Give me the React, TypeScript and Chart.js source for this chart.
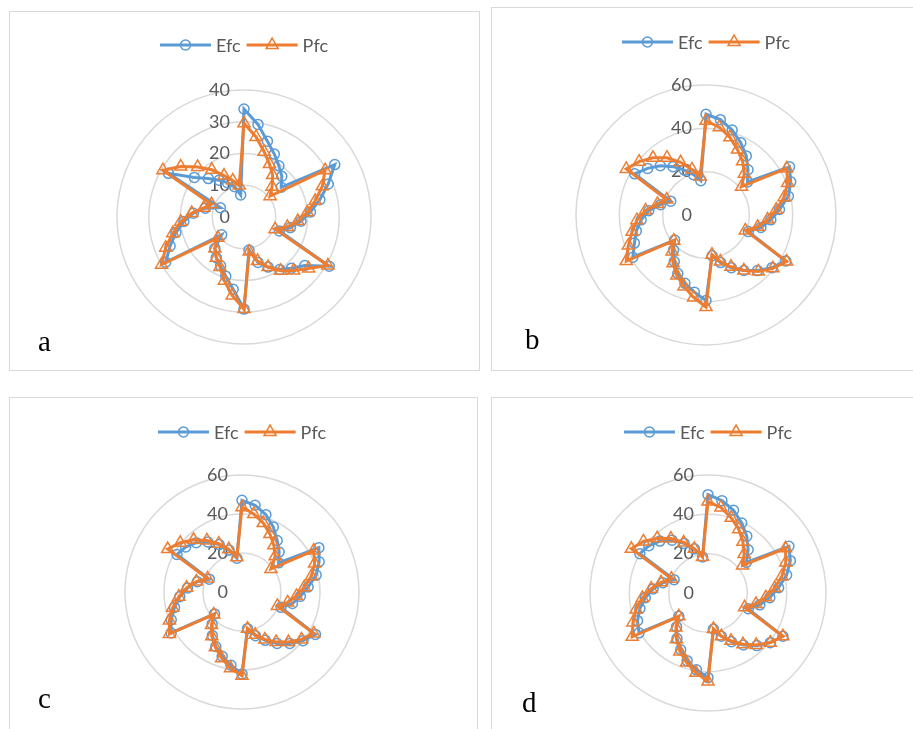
import React, { useEffect, useRef } from 'react';
import { Chart, registerables } from 'chart.js';

Chart.register(...registerables);

// ---------- data ----------
const categories = [
  '1', '2', '3', '4', '5', '6', '7', '8', '9', '10', '11', '12', '13', '14',
  '15', '16', '17', '18', '19', '20', '21', '22', '23', '24', '25', '26', '27', '28',
  '29', '30', '31', '32', '33', '34', '35', '36', '37', '38', '39', '40', '41', '42',
];

const seriesNames = ['Efc', 'Pfc'];
const panelLetters = ['a', 'b', 'c', 'd'];

const efcA = [
  34, 29.5, 25, 22, 19.5, 17.5, 15,
  33, 28.5, 24.5, 21, 18, 15, 12,
  31, 24.5, 22, 20, 17.5, 15, 10.5,
  29, 23, 19.5, 17, 15.5, 13.5, 9,
  28.5, 25, 22, 19, 16, 12.5, 8,
  27.5, 20, 16.5, 14, 12, 10, 7,
];
const pfcA = [
  29.5, 25.5, 21.5, 18.5, 16, 13, 10.5,
  29.5, 26.5, 23, 20, 17, 14, 10.5,
  30.5, 26, 23, 20.5, 17.5, 14.5, 11,
  29, 25, 21, 17.5, 15.5, 13.5, 10.5,
  30, 26.5, 23, 20, 16.5, 13, 11,
  29.5, 25.5, 21.5, 18, 14.5, 12, 10,
];

const efcB = [
  46.5, 44.5, 41, 37, 33, 28.5, 24.5,
  44.5, 42, 39, 34, 30, 26, 21,
  42.5, 39, 35, 31, 27, 23, 19,
  39.5, 36, 33, 30, 26, 22, 18.5,
  39, 35.5, 33, 30, 26.5, 21.5, 17.5,
  38, 34.5, 31, 27, 23, 19.5, 16,
];
const pfcB = [
  43.5, 41, 37.5, 33.5, 30, 26, 21,
  43, 40.5, 37, 32.5, 28.5, 24.5, 19.5,
  43, 39.5, 35.5, 31, 26.5, 22.5, 18.5,
  42.5, 38.5, 34.5, 31, 27, 23, 19,
  42.5, 38.5, 35, 32, 28, 23, 19.5,
  42.5, 39.5, 36, 32, 27, 22, 18,
];

const efcC = [
  47, 45, 41.5, 37, 32, 28, 24,
  45.5, 42.5, 39, 34, 30, 26.5, 21.5,
  43.5, 40, 36, 32, 27.5, 23.5, 19,
  42, 38, 34.5, 31, 27, 22.5, 18,
  42, 39, 35.5, 32, 28, 23.5, 18,
  38.5, 37, 34.5, 31, 27, 22.5, 17.5,
];
const pfcC = [
  43.5, 40.5, 37, 33, 29, 25, 19,
  42.5, 40, 36.5, 32, 28, 24, 19.5,
  42.5, 39, 35, 31, 27, 23, 19,
  43, 39.5, 35.5, 31.5, 27.5, 23, 18.5,
  43, 40, 36.5, 32.5, 28.5, 24, 19,
  44, 40.5, 36.5, 32, 27.5, 23, 18,
];

const efcD = [
  50, 47.5, 44, 39.5, 35, 30, 25,
  47.5, 45, 41, 36, 31.5, 27, 22,
  44, 40.5, 36.5, 32, 27.5, 23, 18.5,
  43, 39.5, 36, 32, 28, 23.5, 19,
  40.5, 38.5, 35.5, 32, 28, 23.5, 18.5,
  40, 38.5, 36, 32.5, 28, 23.5, 18.5,
];
const pfcD = [
  46.5, 44, 40, 36, 31.5, 27, 22.5,
  45.5, 42.5, 38.5, 34, 29.5, 25, 20,
  44, 40.5, 36, 31.5, 27, 23, 18.5,
  45, 41, 37, 33, 28.5, 24, 19,
  44.5, 41, 37.5, 33.5, 29, 24.5, 20,
  45, 42, 38, 33.5, 28.5, 23.5, 18.5,
];

const ticksA = [0, 10, 20, 30, 40];
const ticksBCD = [0, 20, 40, 60];

// ---------- styles / layout ----------
const BLUE = '#5b9bd5';
const ORANGE = '#ed7d31';
const GRID = '#d9d9d9';
const TEXT = '#595959';
const TICK_FONT = '18px Lato, "Open Sans", sans-serif';
const LEGEND_FONT = '18px Lato, "Open Sans", sans-serif';
const LETTER_FONT = '29px "Liberation Serif", "DejaVu Serif", serif';

type PanelCfg = {
  letter: string;
  efc: number[];
  pfc: number[];
  ticks: number[];
  L: number; T: number; W: number; H: number;
  cx: number; cy: number; R: number;
  legendY: number;
  letterX: number; letterY: number;
};

const panels: PanelCfg[] = [
  { letter: panelLetters[0], efc: efcA, pfc: pfcA, ticks: ticksA,
    L: 9, T: 11, W: 471, H: 360, cx: 244, cy: 217, R: 127, legendY: 45, letterX: 38, letterY: 351 },
  { letter: panelLetters[1], efc: efcB, pfc: pfcB, ticks: ticksBCD,
    L: 491, T: 7, W: 430, H: 364, cx: 706, cy: 215, R: 130, legendY: 42, letterX: 525, letterY: 349 },
  { letter: panelLetters[2], efc: efcC, pfc: pfcC, ticks: ticksBCD,
    L: 9, T: 397, W: 469, H: 340, cx: 242, cy: 592, R: 117, legendY: 432, letterX: 38, letterY: 708 },
  { letter: panelLetters[3], efc: efcD, pfc: pfcD, ticks: ticksBCD,
    L: 491, T: 397, W: 430, H: 340, cx: 708, cy: 593, R: 118, legendY: 432, letterX: 522, letterY: 712 },
];

function drawMarker(ctx: CanvasRenderingContext2D, style: string, x: number, y: number, r: number, color: string) {
  ctx.save();
  ctx.strokeStyle = color;
  ctx.lineWidth = 1.5;
  ctx.beginPath();
  if (style === 'circle') {
    ctx.arc(x, y, r, 0, Math.PI * 2);
  } else {
    let rad = 0;
    ctx.moveTo(x + Math.sin(rad) * r, y - Math.cos(rad) * r);
    rad += (2 * Math.PI) / 3;
    ctx.lineTo(x + Math.sin(rad) * r, y - Math.cos(rad) * r);
    rad += (2 * Math.PI) / 3;
    ctx.lineTo(x + Math.sin(rad) * r, y - Math.cos(rad) * r);
    ctx.closePath();
  }
  ctx.stroke();
  ctx.restore();
}

const CIRCLE_R = 5;
const TRI_R = 7;

function RadarPanel({ cfg }: { cfg: PanelCfg }) {
  const ref = useRef<HTMLCanvasElement | null>(null);
  useEffect(() => {
    const canvas = ref.current;
    if (!canvas) return;
    const max = cfg.ticks[cfg.ticks.length - 1];
    const step = cfg.ticks[1] - cfg.ticks[0];
    const pad = {
      left: cfg.cx - cfg.R - cfg.L,
      top: cfg.cy - cfg.R - cfg.T,
      right: cfg.L + cfg.W - (cfg.cx + cfg.R),
      bottom: cfg.T + cfg.H - (cfg.cy + cfg.R),
    };
    const overlay = {
      id: 'overlay',
      beforeDatasetsDraw(chart: any) {
        const ctx = chart.ctx as CanvasRenderingContext2D;
        const s = chart.scales.r;
        ctx.save();
        ctx.font = TICK_FONT;
        ctx.fillStyle = TEXT;
        ctx.textAlign = 'right';
        ctx.textBaseline = 'middle';
        cfg.ticks.forEach((v) => {
          const y = s.yCenter - s.getDistanceFromCenterForValue(v);
          ctx.fillText(String(v), s.xCenter - 14, y);
        });
        ctx.restore();
      },
      afterDraw(chart: any) {
        const ctx = chart.ctx as CanvasRenderingContext2D;
        const s = chart.scales.r;
        ctx.save();
        ctx.font = LEGEND_FONT;
        const segLen = 51;
        const gapText = 5;
        const gapItem = 6;
        const widths = seriesNames.map((n) => ctx.measureText(n).width);
        const total = widths.reduce((a, w) => a + segLen + gapText + w, 0) + gapItem;
        let x = s.xCenter - total / 2;
        const y = cfg.legendY - cfg.T;
        const colors = [BLUE, ORANGE];
        const styles = ['circle', 'triangle'];
        seriesNames.forEach((n, i) => {
          ctx.strokeStyle = colors[i];
          ctx.lineWidth = 3;
          ctx.beginPath();
          ctx.moveTo(x, y);
          ctx.lineTo(x + segLen, y);
          ctx.stroke();
          drawMarker(ctx, styles[i], x + segLen / 2, y, i === 0 ? CIRCLE_R : TRI_R, colors[i]);
          ctx.fillStyle = TEXT;
          ctx.textAlign = 'left';
          ctx.textBaseline = 'middle';
          ctx.fillText(n, x + segLen + gapText, y + 1);
          x += segLen + gapText + widths[i] + gapItem;
        });
        ctx.font = LETTER_FONT;
        ctx.fillStyle = '#000000';
        ctx.textAlign = 'left';
        ctx.textBaseline = 'alphabetic';
        ctx.fillText(cfg.letter, cfg.letterX - cfg.L, cfg.letterY - cfg.T);
        ctx.restore();
      },
    };
    const chart = new Chart(canvas, {
      type: 'radar',
      data: {
        labels: categories,
        datasets: [
          {
            label: seriesNames[0],
            data: cfg.efc,
            borderColor: BLUE,
            borderWidth: 3,
            backgroundColor: 'rgba(0,0,0,0)',
            fill: false,
            pointStyle: 'circle',
            pointRadius: CIRCLE_R,
            pointBorderWidth: 1.5,
            pointBorderColor: BLUE,
            pointBackgroundColor: 'rgba(0,0,0,0)',
            order: 1,
            clip: false,
          } as any,
          {
            label: seriesNames[1],
            data: cfg.pfc,
            borderColor: ORANGE,
            borderWidth: 3,
            backgroundColor: 'rgba(0,0,0,0)',
            fill: false,
            pointStyle: 'triangle',
            pointRadius: TRI_R,
            pointBorderWidth: 1.5,
            pointBorderColor: ORANGE,
            pointBackgroundColor: 'rgba(0,0,0,0)',
            order: 0,
            clip: false,
          } as any,
        ],
      },
      options: {
        responsive: false,
        animation: false,
        devicePixelRatio: 1,
        layout: { padding: pad },
        elements: { line: { tension: 0 } },
        plugins: {
          legend: { display: false },
          tooltip: { enabled: false },
          title: { display: false },
        },
        scales: {
          r: {
            min: 0,
            max,
            ticks: { display: false, stepSize: step },
            grid: { circular: true, color: GRID, lineWidth: 1.5 },
            angleLines: { display: false },
            pointLabels: { display: false },
          },
        },
      } as any,
      plugins: [overlay],
    });
    return () => chart.destroy();
  }, [cfg]);

  return (
    <>
      <div
        style={{
          position: 'absolute',
          left: cfg.L,
          top: cfg.T,
          width: cfg.W,
          height: cfg.H,
          border: `1px solid ${GRID}`,
          boxSizing: 'border-box',
          background: '#ffffff',
        }}
      />
      <canvas
        ref={ref}
        width={cfg.W}
        height={cfg.H}
        style={{ position: 'absolute', left: cfg.L, top: cfg.T, width: cfg.W, height: cfg.H }}
      />
    </>
  );
}

export default function App() {
  return (
    <div
      style={{
        position: 'fixed',
        left: 0,
        top: 0,
        width: 913,
        height: 729,
        overflow: 'hidden',
        background: '#ffffff',
      }}
    >
      {panels.map((p) => (
        <RadarPanel key={p.letter} cfg={p} />
      ))}
    </div>
  );
}
